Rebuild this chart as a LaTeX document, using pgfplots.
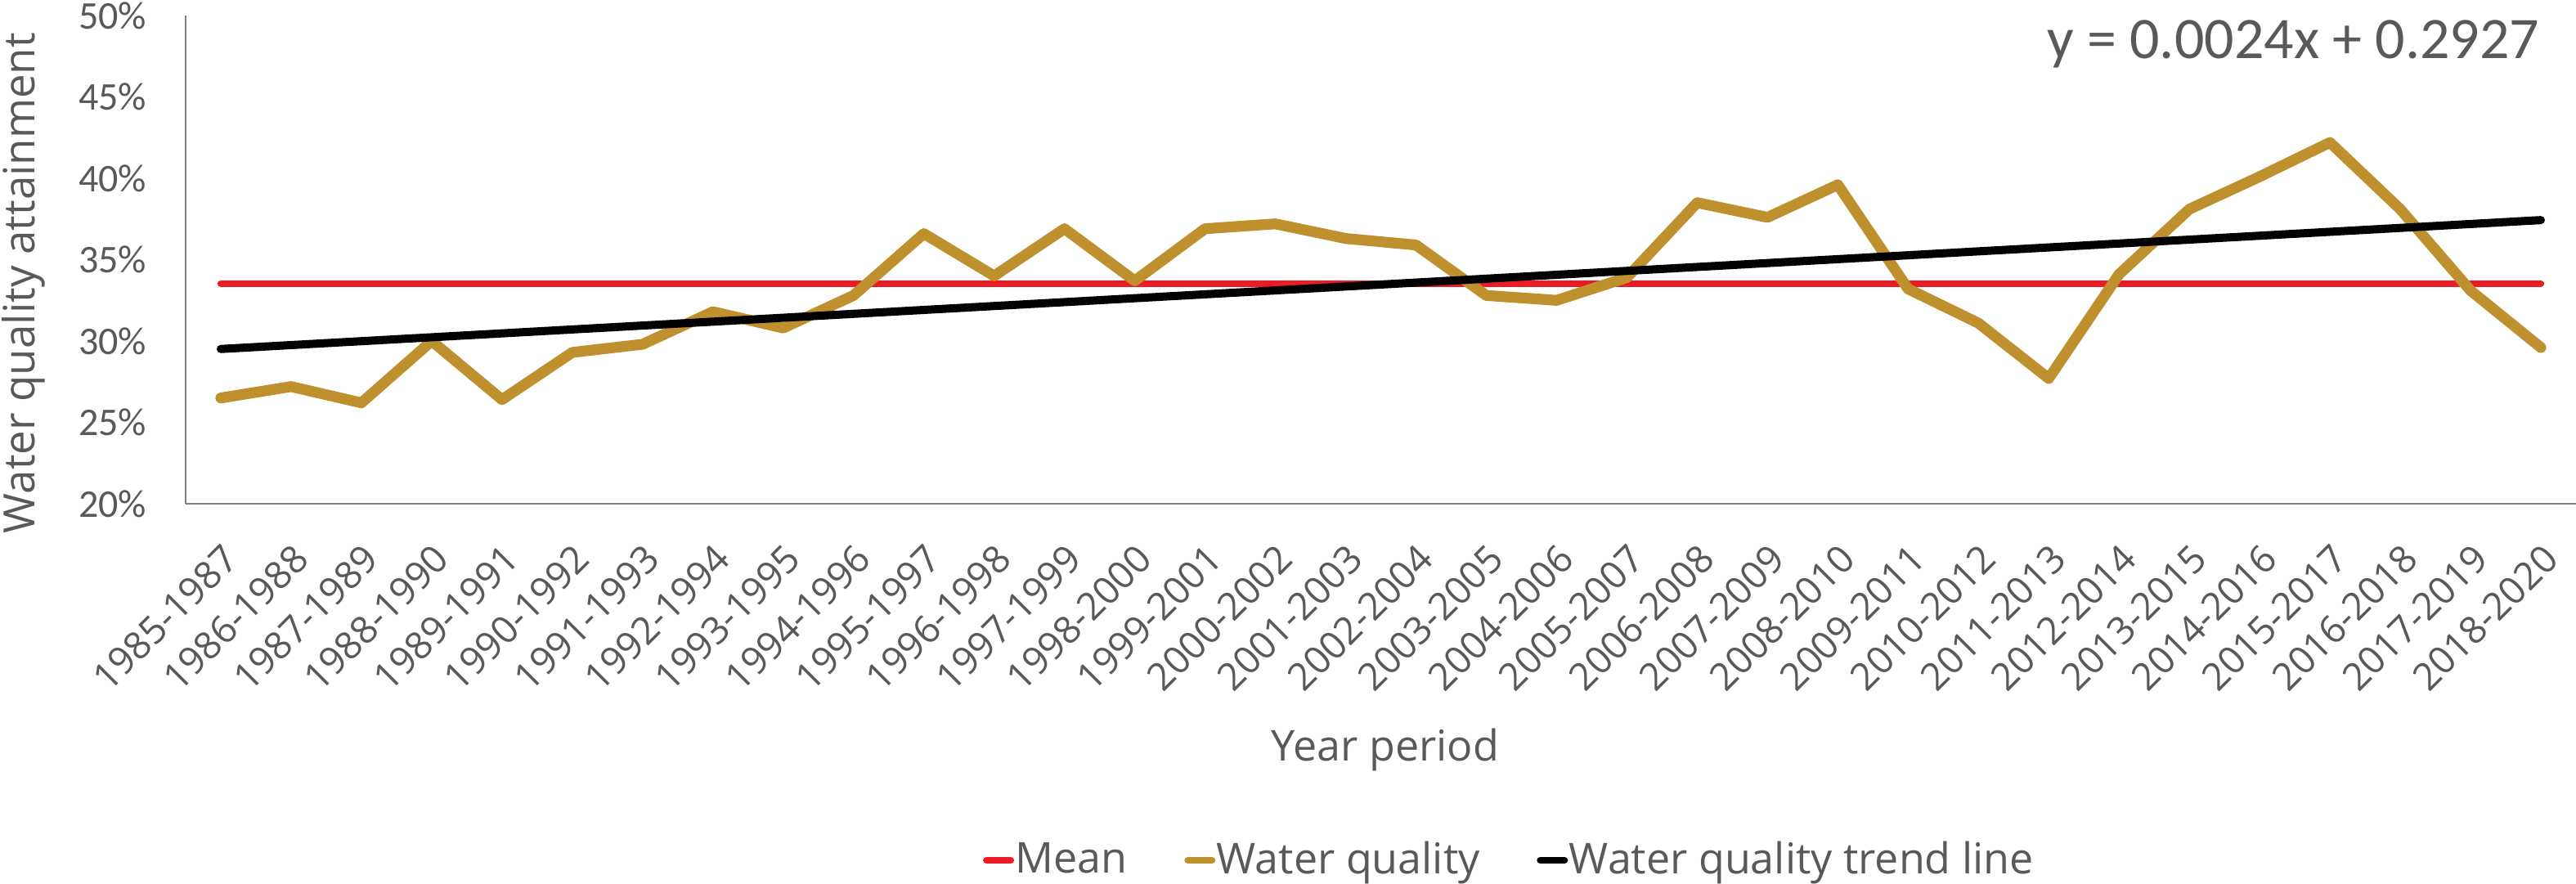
\documentclass[border=0pt]{standalone}
\usepackage{pgfplots}
\pgfplotsset{compat=1.18}
\usepackage{fontspec}
\setmainfont{Open Sans}
\newfontfamily\carlito{Carlito}
\definecolor{txt}{HTML}{595959}
\definecolor{gold}{HTML}{BF912E}
\definecolor{meanred}{HTML}{ED1C24}
\definecolor{axgray}{HTML}{7F7F7F}
\begin{document}
\begin{tikzpicture}
\useasboundingbox (0,0) rectangle (787.5bp,-270.25bp);
\begin{axis}[
  at={(56.75bp,-154bp)}, anchor=south west,
  scale only axis, width=730.75bp, height=149.25bp,
  xmin=-0.5, xmax=33.5, ymin=20, ymax=50,
  clip=false,
  axis x line=bottom, axis y line=left,
  axis line style={-, draw=axgray, line width=0.4bp},
  xtick={0,...,33},
  xticklabels={1985-1987,1986-1988,1987-1989,1988-1990,1989-1991,1990-1992,1991-1993,1992-1994,1993-1995,1994-1996,1995-1997,1996-1998,1997-1999,1998-2000,1999-2001,2000-2002,2001-2003,2002-2004,2003-2005,2004-2006,2005-2007,2006-2008,2007-2009,2008-2010,2009-2011,2010-2012,2011-2013,2012-2014,2013-2015,2014-2016,2015-2017,2016-2018,2017-2019,2018-2020},
  ytick={20,25,30,35,40,45,50},
  yticklabels={20\%,25\%,30\%,35\%,40\%,45\%,50\%},
  major tick length=0pt,
  xtick style={draw=none}, ytick style={draw=none},
  xticklabel style={font=\fontsize{11.6bp}{13bp}\selectfont, text=txt, inner sep=0pt, rotate=45, anchor=north east},
  xticklabel shift=11.5bp,
  yticklabel style={font=\carlito\fontsize{12bp}{14bp}\selectfont, text=txt, inner sep=0pt, anchor=east},
  yticklabel shift=11.75bp,
  legend columns=3,
  legend style={at={(axis description cs:0.3336,-0.7303)}, anchor=west, draw=none, fill=none,
    inner sep=0pt, outer sep=0pt,
    font=\fontsize{13bp}{15bp}\selectfont, text=txt,
    nodes={inner sep=0.4bp, text=txt},
    /tikz/every even column/.append style={column sep=17bp}},
  legend image code/.code={\draw[#1, line width=2.1bp, line cap=round] (0bp,0bp) -- (7.4bp,0bp);},
]
\addplot[meanred, line width=2.1bp, line cap=round] coordinates {(0,33.53) (33,33.53)};
\addlegendentry{Mean}
\addplot[gold, line width=3.3bp, line cap=round, line join=round] coordinates {
(0,26.5) (1,27.2) (2,26.2) (3,30.0) (4,26.4) (5,29.3) (6,29.8) (7,31.8) (8,30.8) (9,32.8)
(10,36.6) (11,34.0) (12,36.9) (13,33.7) (14,36.9) (15,37.2) (16,36.3) (17,35.9) (18,32.8) (19,32.5)
(20,33.9) (21,38.5) (22,37.6) (23,39.6) (24,33.2) (25,31.1) (26,27.7) (27,34.1) (28,38.1) (29,40.1)
(30,42.2) (31,38.1) (32,33.1) (33,29.6)};
\addlegendentry{Water quality}
\addplot[black, line width=2.5bp, line cap=round] coordinates {(0,29.51) (33,37.43)};
\addlegendentry{Water quality trend line}
\end{axis}
\node[anchor=base east, inner sep=0pt, text=txt, font=\carlito\fontsize{18bp}{20bp}\selectfont] at (776.5bp,-17.8bp) {y = 0.0024x + 0.2927};
\node[anchor=base, inner sep=0pt, text=txt, font=\fontsize{13bp}{15bp}\selectfont] at (423.5bp,-232.5bp) {Year period};
\node[anchor=base, rotate=90, inner sep=0pt, text=txt, font=\fontsize{13.2bp}{15bp}\selectfont] at (10.5bp,-86.5bp) {Water quality attainment};
\end{tikzpicture}
\end{document}
